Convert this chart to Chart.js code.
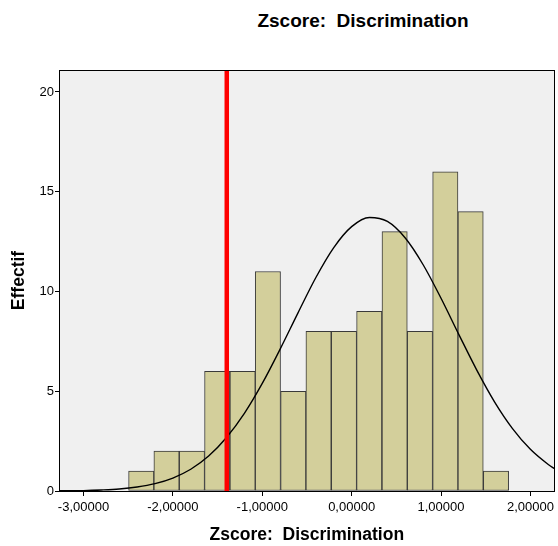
<!DOCTYPE html>
<html>
<head>
<meta charset="utf-8">
<script src="https://cdn.jsdelivr.net/npm/chart.js@4/dist/chart.umd.min.js"></script>
<style>
  html, body { margin: 0; padding: 0; background: #ffffff; }
  #wrap { position: relative; width: 558px; height: 546px; }
  #title { position: absolute; left: 213px; width: 300px; top: 10px; text-align: center; line-height: 22px;
           font-family: "Liberation Sans", Arial, sans-serif; font-weight: bold; font-size: 19px; color: #000; white-space: pre; }
  canvas { position: absolute; left: 0; top: 0; }
</style>
</head>
<body>
<div id="wrap">
  <div id="title">Zscore:  Discrimination</div>
  <canvas id="c" width="558" height="546"></canvas>
</div>
<script>
// ---- data ----
const binCenters = [-2.354, -2.071, -1.787, -1.504, -1.220, -0.937, -0.653, -0.370, -0.086, 0.197, 0.481, 0.764, 1.048, 1.331, 1.615];
const counts     = [1, 2, 2, 6, 6, 11, 5, 8, 8, 9, 13, 8, 16, 14, 1];
const curveX = [-3.27, -3.0, -2.8, -2.6, -2.4, -2.2, -2.0, -1.8, -1.6, -1.4, -1.2, -1.0, -0.8, -0.6, -0.4, -0.2, 0.0, 0.2, 0.4, 0.6, 0.8, 1.0, 1.2, 1.4, 1.6, 1.8, 2.0, 2.2, 2.27];
const curveY = [0.01, 0.02, 0.05, 0.10, 0.20, 0.37, 0.65, 1.09, 1.75, 2.68, 3.89, 5.39, 7.11, 8.93, 10.70, 12.20, 13.25, 13.71, 13.51, 12.68, 11.34, 9.66, 7.84, 6.06, 4.46, 3.13, 2.09, 1.33, 1.12];
const cutoffX = -1.397;
const xTicks = [-3, -2, -1, 0, 1, 2];
const yTicks = [0, 5, 10, 15, 20];
const xMin = -3.274, xMax = 2.272, yMin = 0, yMax = 21.1;

const FONT = '"Liberation Sans", Arial, sans-serif';

const framePlugin = {
  id: 'frame',
  beforeDatasetsDraw(chart) {
    const a = chart.chartArea, ctx = chart.ctx;
    ctx.save();
    ctx.fillStyle = '#f0f0f0';
    ctx.fillRect(a.left, a.top, a.right - a.left, a.bottom - a.top);
    ctx.restore();
  },
  afterDraw(chart) {
    const a = chart.chartArea, ctx = chart.ctx;
    ctx.save();
    ctx.strokeStyle = '#000';
    ctx.lineWidth = 1;
    ctx.strokeRect(Math.round(a.left) + 0.5, Math.round(a.top) + 0.5, Math.round(a.right - a.left) - 1, Math.round(a.bottom - a.top));
    ctx.restore();
  }
};

new Chart(document.getElementById('c'), {
  type: 'bar',
  data: {
    datasets: [
      {
        type: 'line',
        label: 'cutoff',
        data: [{x: cutoffX, y: yMin}, {x: cutoffX, y: yMax}],
        borderColor: '#ff0000',
        borderWidth: 4.5,
        pointRadius: 0,
        order: 0
      },
      {
        type: 'line',
        label: 'normal',
        data: curveX.map((x, i) => ({x: x, y: curveY[i]})),
        borderColor: '#000000',
        borderWidth: 1.4,
        pointRadius: 0,
        tension: 0.4,
        cubicInterpolationMode: 'monotone',
        order: 1
      },
      {
        type: 'bar',
        label: 'count',
        data: binCenters.map((x, i) => ({x: x, y: counts[i]})),
        backgroundColor: '#d3cf9b',
        borderColor: '#3a3a3a',
        borderWidth: 1,
        borderSkipped: false,
        barPercentage: 1,
        categoryPercentage: 1,
        order: 2
      }
    ]
  },
  options: {
    responsive: false,
    animation: false,
    layout: { padding: { left: 0, right: 2, top: 70, bottom: 0 } },
    plugins: { legend: { display: false }, tooltip: { enabled: false }, title: { display: false } },
    scales: {
      x: {
        type: 'linear',
        offset: false,
        min: xMin, max: xMax,
        afterBuildTicks: s => { s.ticks = xTicks.map(v => ({value: v})); },
        afterFit: s => { s.height = 55; },
        grid: { display: true, offset: false, drawOnChartArea: false, drawTicks: true, tickLength: 5, color: '#000' },
        border: { display: true, color: '#000', width: 1 },
        ticks: {
          color: '#000', font: { family: FONT, size: 13 }, padding: 4, maxRotation: 0,
          callback: v => v.toFixed(5).replace('.', ',')
        },
        title: { display: true, text: 'Zscore:  Discrimination', color: '#000',
                 font: { family: FONT, size: 17.5, weight: 'bold' }, padding: { top: 0, bottom: 0 } }
      },
      y: {
        type: 'linear',
        min: yMin, max: yMax,
        afterBuildTicks: s => { s.ticks = yTicks.map(v => ({value: v})); },
        afterFit: s => { s.width = 59; },
        grid: { display: true, drawOnChartArea: false, drawTicks: true, tickLength: 4, color: '#000' },
        border: { display: true, color: '#000', width: 1 },
        ticks: { color: '#000', font: { family: FONT, size: 13 }, padding: 1 },
        title: { display: true, text: 'Effectif', color: '#000',
                 font: { family: FONT, size: 17.5, weight: 'bold' }, padding: { top: 9, bottom: 0 } }
      }
    }
  },
  plugins: [framePlugin]
});
</script>
</body>
</html>
